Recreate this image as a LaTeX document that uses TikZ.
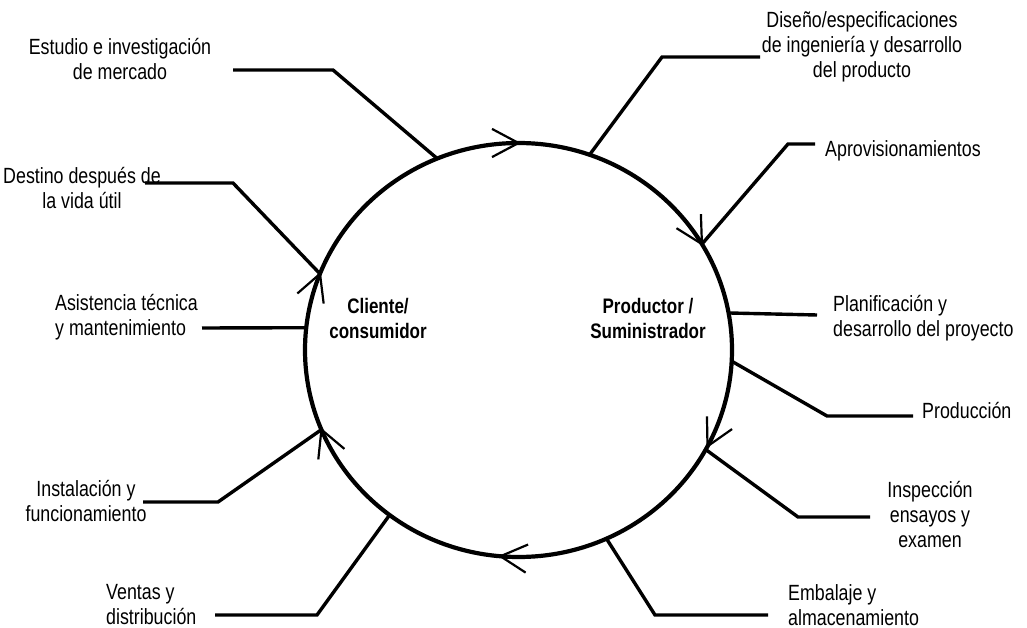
\documentclass[tikz,border=0pt]{standalone}
\usepackage{fontspec}
\setmainfont{Liberation Sans}[FakeStretch=0.81]
\usetikzlibrary{shapes.geometric,calc}
\begin{document}
\begin{tikzpicture}[x=1pt,y=-1pt,
  lbl/.style={font=\fontsize{22}{25}\selectfont, inner sep=0pt, align=center},
  inlbl/.style={font=\fontsize{21}{25}\selectfont\bfseries, inner sep=0pt, align=center},
  spoke/.style={line width=3.4pt, line join=miter, line cap=butt},
  barb/.style={line width=2.2pt, line join=miter}]
\useasboundingbox (0,0) rectangle (1027,628);
\node[ellipse, draw, line width=4.2pt, minimum width=427pt, minimum height=414pt,
      inner sep=0pt, outer sep=0pt] (circ) at (518.5,350) {};

% arrowheads along the circle (clockwise flow)
\foreach \a in {90,30,333,265,202,159}{
  \draw[barb] ($(circ.\a)+({\a+62}:30pt)$) -- (circ.\a) -- ($(circ.\a)+({\a+118}:30pt)$);
}

% inner labels
\node[inlbl] (cli) at (378,318) {Cliente/\\consumidor};
\node[inlbl] (pro) at (648,318) {Productor /\\Suministrador};

% outer labels
\node[lbl] (t1) at (120,59) {Estudio e investigación\\de mercado};
\node[lbl] (t2) at (82,188) {Destino después de\\la vida útil};
\node[lbl, align=left, anchor=west] (t3) at (55,317) {Asistencia técnica\\y mantenimiento};
\node[lbl] (t4) at (86,501) {Instalación y\\funcionamiento};
\node[lbl, align=left, anchor=west] (t5) at (106,605) {Ventas y\\distribución};
\node[lbl] (t6) at (862,47) {Diseño/especificaciones\\de ingeniería y desarrollo\\del producto};
\node[lbl, anchor=west] (t7) at (825,151) {Aprovisionamientos};
\node[lbl, align=left, anchor=west] (t8) at (833,318) {Planificación y\\desarrollo del proyecto};
\node[lbl, anchor=west] (t9) at (922,411) {Producción};
\node[lbl] (t10) at (930,515) {Inspección\\ensayos y\\examen};
\node[lbl, align=left, anchor=west] (t11) at (788,605) {Embalaje y\\almacenamiento};

% spoke coordinates
\coordinate (s1) at (233,70);  \coordinate (k1) at (333,70);
\coordinate (s2) at (145,183); \coordinate (k2) at (233,183);
\coordinate (s3) at (202,328);
\coordinate (s4) at (143,502); \coordinate (k4) at (218,502);
\coordinate (s5) at (215,615); \coordinate (k5) at (317,615);
\coordinate (s6) at (760,57);  \coordinate (k6) at (662,57);
\coordinate (s7) at (815,144); \coordinate (k7) at (788,144);
\coordinate (s8) at (817,315);
\coordinate (s9) at (913,416); \coordinate (k9) at (827,416);
\coordinate (s10) at (870,517); \coordinate (k10) at (798,517);
\coordinate (s11) at (768,615); \coordinate (k11) at (655,615);

\draw[spoke] (s1) -- (k1) -- (circ.113);
\draw[spoke] (s2) -- (k2) -- (circ.159);
\draw[spoke] (s3) -- (circ.174);
\draw[spoke] (s4) -- (k4) -- (circ.202);
\draw[spoke] (s5) -- (k5) -- (circ.232);
\draw[spoke] (s6) -- (k6) -- (circ.70);
\draw[spoke] (s7) -- (k7) -- (circ.30);
\draw[spoke] (s8) -- (circ.10);
\draw[spoke] (s9) -- (k9) -- (circ.357);
\draw[spoke] (s10) -- (k10) -- (circ.332);
\draw[spoke] (s11) -- (k11) -- (circ.295);
\end{tikzpicture}
\end{document}
